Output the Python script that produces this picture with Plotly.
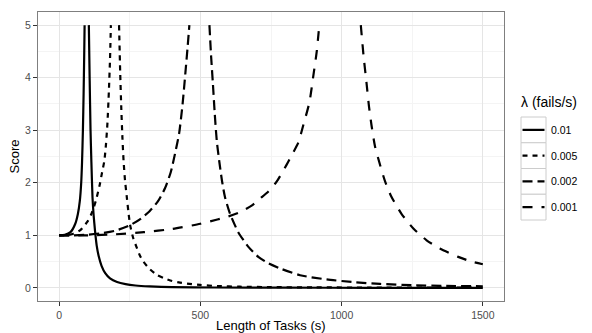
import plotly.graph_objects as go

# ---- data ----
lambdas = ["0.01", "0.005", "0.002", "0.001"]

# lambda = 0.01
l01_left_x = [0, 20, 40, 57, 66, 73, 78, 81, 84, 86.5, 88.5, 90]
l01_left_y = [1.0, 1.01, 1.06, 1.22, 1.4, 1.65, 2.0, 2.4, 3.0, 3.7, 4.4, 5.0]
l01_right_x = [105, 108, 111, 114, 118, 122, 127, 133, 140, 150, 163, 180, 205, 235, 270, 320, 400, 550, 800, 1100, 1500]
l01_right_y = [5.0, 3.95, 3.0, 2.4, 1.72, 1.38, 1.08, 0.8, 0.6, 0.42, 0.28, 0.18, 0.11, 0.07, 0.045, 0.028, 0.015, 0.007, 0.003, 0.001, 0.0]

# lambda = 0.005
l005_left_x = [0, 25, 50, 75, 100, 115, 130, 143, 152, 160, 166, 171, 176, 180, 183]
l005_left_y = [1.0, 1.0, 1.03, 1.1, 1.26, 1.42, 1.66, 1.95, 2.2, 2.42, 2.75, 3.15, 3.75, 4.35, 5.0]
l005_right_x = [212, 216, 220, 224, 228, 233, 239, 245, 251, 262, 275, 287, 298, 322, 345, 369, 400, 428, 470, 499, 560, 640, 750, 900, 1100, 1300, 1500]
l005_right_y = [5.0, 4.1, 3.4, 2.85, 2.42, 2.05, 1.75, 1.45, 1.2, 0.95, 0.76, 0.6, 0.5, 0.35, 0.25, 0.19, 0.13, 0.1, 0.07, 0.055, 0.035, 0.022, 0.014, 0.009, 0.006, 0.004, 0.003]

# lambda = 0.002
l002_left_x = [0, 50, 100, 150, 200, 250, 290, 320, 350, 375, 395, 410, 425, 437, 447, 455, 461]
l002_left_y = [1.0, 1.0, 1.01, 1.04, 1.09, 1.19, 1.32, 1.46, 1.65, 1.9, 2.2, 2.55, 2.95, 3.5, 4.1, 4.6, 5.0]
l002_right_x = [532, 538, 544, 551, 558, 567, 577, 587, 605, 634, 670, 705, 740, 782, 853, 947, 1041, 1136, 1250, 1370, 1500]
l002_right_y = [5.0, 4.4, 3.91, 3.3, 2.8, 2.4, 2.02, 1.73, 1.41, 1.06, 0.78, 0.59, 0.47, 0.37, 0.24, 0.16, 0.11, 0.075, 0.05, 0.038, 0.03]

# lambda = 0.001
l001_left_x = [0, 100, 200, 300, 400, 500, 560, 600, 640, 680, 711, 740, 770, 805, 823, 847, 864, 886, 900, 912, 921]
l001_left_y = [1.0, 1.0, 1.02, 1.06, 1.12, 1.22, 1.3, 1.36, 1.44, 1.56, 1.70, 1.83, 2.02, 2.34, 2.52, 2.77, 3.09, 3.53, 4.04, 4.5, 5.0]
l001_right_x = [1068, 1078, 1088, 1097, 1106, 1118, 1133, 1153, 1175, 1212, 1254, 1301, 1348, 1413, 1460, 1500]
l001_right_y = [5.0, 4.4, 3.91, 3.45, 3.09, 2.7, 2.4, 2.04, 1.75, 1.41, 1.13, 0.905, 0.75, 0.59, 0.5, 0.45]

x_ticks = [0, 500, 1000, 1500]
y_ticks = [0, 1, 2, 3, 4, 5]

series = [
    (l01_left_x, l01_left_y, l01_right_x, l01_right_y),
    (l005_left_x, l005_left_y, l005_right_x, l005_right_y),
    (l002_left_x, l002_left_y, l002_right_x, l002_right_y),
    (l001_left_x, l001_left_y, l001_right_x, l001_right_y),
]
dashes = ["solid", "5px,5px", "10px,5px", "10px,9px"]
LW = 2.2
FONT = "Liberation Sans, Arial, Helvetica, sans-serif"

fig = go.Figure()
for (lx, ly, rx, ry), lab, dash in zip(series, lambdas, dashes):
    fig.add_trace(go.Scatter(
        x=lx + [None] + rx, y=ly + [None] + ry, mode="lines", name=lab,
        line=dict(color="black", width=LW, dash=dash, shape="spline", smoothing=0.6),
        connectgaps=False, showlegend=False, hoverinfo="skip"))

# panel geometry in pixels (for manual legend)
W, H = 592, 333
L, R, T, B = 38, 88, 12, 32
pw, ph = W - L - R, H - T - B

def px2x(px):
    return (px - L) / pw

def py2y(py):
    return (H - B - py) / ph

shapes = []
annotations = []
key_x0, key_x1 = 521, 546
key_top, key_h = 117, 25.75
for i, (lab, dash) in enumerate(zip(lambdas, dashes)):
    top = key_top + i * key_h
    bot = top + key_h
    shapes.append(dict(type="rect", xref="paper", yref="paper",
                       x0=px2x(key_x0), x1=px2x(key_x1), y0=py2y(bot), y1=py2y(top),
                       line=dict(color="#cccccc", width=1), fillcolor="white", layer="above"))
    cy = (top + bot) / 2
    shapes.append(dict(type="line", xref="paper", yref="paper",
                       x0=px2x(522.5), x1=px2x(544.5), y0=py2y(cy), y1=py2y(cy),
                       line=dict(color="black", width=LW, dash=dash), layer="above"))
    annotations.append(dict(text=lab, xref="paper", yref="paper", x=px2x(549), y=py2y(cy),
                            xanchor="left", yanchor="middle", showarrow=False,
                            font=dict(family=FONT, size=10.5, color="black")))

annotations.append(dict(text="λ (fails/s)", xref="paper", yref="paper", x=px2x(519), y=py2y(102),
                        xanchor="left", yanchor="middle", showarrow=False,
                        font=dict(family=FONT, size=14, color="black")))
annotations.append(dict(text="Length of Tasks (s)", xref="paper", yref="paper", x=0.5, y=py2y(325),
                        xanchor="center", yanchor="middle", showarrow=False,
                        font=dict(family=FONT, size=13, color="black")))
annotations.append(dict(text="Score", xref="paper", yref="paper", x=px2x(14), y=0.5,
                        xanchor="center", yanchor="middle", showarrow=False, textangle=-90,
                        font=dict(family=FONT, size=13, color="black")))

axis_common = dict(showgrid=True, gridcolor="#e5e5e5", gridwidth=1, zeroline=False,
                   showline=True, mirror=True, linecolor="#7f7f7f", linewidth=1,
                   ticks="outside", ticklen=4, tickwidth=1, tickcolor="#333333",
                   tickfont=dict(family=FONT, size=10.5, color="#4d4d4d"))

fig.update_layout(
    width=W, height=H, margin=dict(l=L, r=R, t=T, b=B, pad=0),
    paper_bgcolor="white", plot_bgcolor="white",
    xaxis=dict(range=[-75, 1575], tickmode="array", tickvals=x_ticks,
               minor=dict(tickmode="array", tickvals=[250, 750, 1250], showgrid=True,
                          gridcolor="#f4f4f4", ticks=""),
               **axis_common),
    yaxis=dict(range=[-0.25, 5.25], tickmode="array", tickvals=y_ticks,
               minor=dict(tickmode="array", tickvals=[0.5, 1.5, 2.5, 3.5, 4.5], showgrid=True,
                          gridcolor="#f4f4f4", ticks=""),
               **axis_common),
    shapes=shapes, annotations=annotations, showlegend=False,
)

fig.write_html("out.html")
